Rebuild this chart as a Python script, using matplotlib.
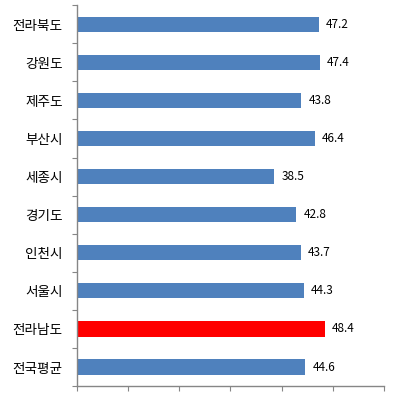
import numpy as np
import matplotlib
matplotlib.use('Agg')
import matplotlib.pyplot as plt

plt.rcParams['font.family'] = ['Noto Sans CJK KR', 'DejaVu Sans']

regions = ['전라북도', '강원도', '제주도', '부산시', '세종시', '경기도', '인천시', '서울시', '전라남도', '전국평균']
values = [47.2, 47.4, 43.8, 46.4, 38.5, 42.8, 43.7, 44.3, 48.4, 44.6]
highlight = '전라남도'

blue = '#4F81BD'
red = '#FF0000'
axis_grey = '#868686'

fig = plt.figure(figsize=(3.93, 3.98), dpi=100)
ax = fig.add_axes([0.195, 0.030, 0.783, 0.957])

y = np.arange(len(regions))
colors = [red if r == highlight else blue for r in regions]
ax.barh(y, values, height=0.4, color=colors)

for yi, v in zip(y, values):
    ax.text(v + 1.4, yi, '%.1f' % v, va='center', ha='left', fontsize=8.5)

ax.set_ylim(len(regions) - 0.5, -0.5)
ax.set_yticks(np.arange(len(regions) + 1) - 0.5)
ax.set_yticklabels([])
ax.set_yticks(y, minor=True)
ax.set_yticklabels(regions, minor=True, fontsize=9.8)
ax.tick_params(axis='y', which='minor', length=0, pad=10)
ax.tick_params(axis='y', which='major', length=3.4, color=axis_grey, direction='out')

ax.set_xlim(0, 60)
ax.set_xticks(np.arange(0, 61, 10))
ax.set_xticklabels([])
ax.tick_params(axis='x', length=3.4, color=axis_grey, direction='out')

for s in ['top', 'right']:
    ax.spines[s].set_visible(False)
for s in ['left', 'bottom']:
    ax.spines[s].set_color(axis_grey)
    ax.spines[s].set_linewidth(1.0)

fig.savefig('out.png', dpi=100)
